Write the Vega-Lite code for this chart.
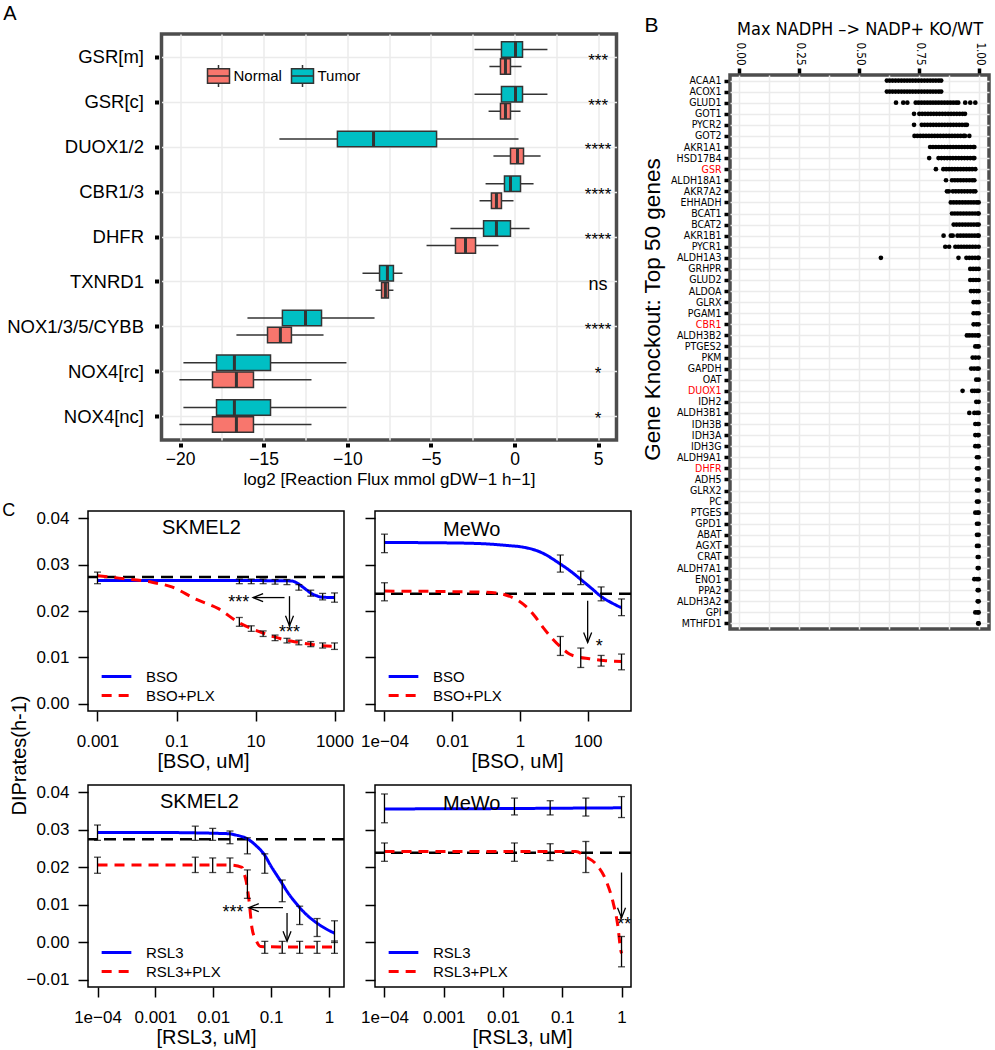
{
  "$schema": "https://vega.github.io/schema/vega-lite/v6.json",
  "background": "white",
  "padding": {"left": 2, "top": 4, "right": 0, "bottom": 0},
  "config": {
    "font": "Liberation Sans",
    "view": {"stroke": null},
    "axis": {"labelColor": "black", "titleColor": "black", "titleFontWeight": "normal", "labelFont": "Liberation Sans", "titleFont": "Liberation Sans"},
    "legend": {"labelColor": "black", "labelFont": "Liberation Sans"},
    "title": {"fontWeight": "normal", "color": "black", "font": "Liberation Sans"}
  },
  "datasets": {
    "boxes": [
      {"gene": "GSR[m]", "grp": "Tumor", "lo": -2.39, "q1": -0.78, "med": 0.06, "q3": 0.48, "hi": 1.97},
      {"gene": "GSR[m]", "grp": "Normal", "lo": -1.50, "q1": -0.84, "med": -0.54, "q3": -0.24, "hi": 0.42},
      {"gene": "GSR[c]", "grp": "Tumor", "lo": -2.39, "q1": -0.78, "med": 0.06, "q3": 0.48, "hi": 1.97},
      {"gene": "GSR[c]", "grp": "Normal", "lo": -1.55, "q1": -0.84, "med": -0.54, "q3": -0.24, "hi": 0.36},
      {"gene": "DUOX1/2", "grp": "Tumor", "lo": -14.06, "q1": -10.59, "med": -8.43, "q3": -4.66, "hi": 0.24},
      {"gene": "DUOX1/2", "grp": "Normal", "lo": -1.26, "q1": -0.24, "med": 0.18, "q3": 0.54, "hi": 1.56},
      {"gene": "CBR1/3", "grp": "Tumor", "lo": -1.73, "q1": -0.60, "med": -0.24, "q3": 0.36, "hi": 1.14},
      {"gene": "CBR1/3", "grp": "Normal", "lo": -2.09, "q1": -1.38, "med": -1.08, "q3": -0.78, "hi": -0.06},
      {"gene": "DHFR", "grp": "Tumor", "lo": -3.83, "q1": -1.85, "med": -1.08, "q3": -0.24, "hi": 0.90},
      {"gene": "DHFR", "grp": "Normal", "lo": -5.26, "q1": -3.53, "med": -2.93, "q3": -2.33, "hi": -0.96},
      {"gene": "TXNRD1", "grp": "Tumor", "lo": -9.09, "q1": -8.07, "med": -7.60, "q3": -7.24, "hi": -6.70},
      {"gene": "TXNRD1", "grp": "Normal", "lo": -8.31, "q1": -7.95, "med": -7.72, "q3": -7.54, "hi": -7.24},
      {"gene": "NOX1/3/5/CYBB", "grp": "Tumor", "lo": -15.97, "q1": -13.88, "med": -12.50, "q3": -11.54, "hi": -8.37},
      {"gene": "NOX1/3/5/CYBB", "grp": "Normal", "lo": -16.63, "q1": -14.77, "med": -14.00, "q3": -13.34, "hi": -11.42},
      {"gene": "NOX4[rc]", "grp": "Tumor", "lo": -19.80, "q1": -17.82, "med": -16.75, "q3": -14.59, "hi": -10.05},
      {"gene": "NOX4[rc]", "grp": "Normal", "lo": -20.04, "q1": -18.06, "med": -16.63, "q3": -15.61, "hi": -12.14},
      {"gene": "NOX4[nc]", "grp": "Tumor", "lo": -19.80, "q1": -17.82, "med": -16.75, "q3": -14.59, "hi": -10.05},
      {"gene": "NOX4[nc]", "grp": "Normal", "lo": -20.04, "q1": -18.06, "med": -16.63, "q3": -15.61, "hi": -12.14}
    ],
    "sigA": [
      {"gene": "GSR[m]", "sig": "***"},
      {"gene": "GSR[c]", "sig": "***"},
      {"gene": "DUOX1/2", "sig": "****"},
      {"gene": "CBR1/3", "sig": "****"},
      {"gene": "DHFR", "sig": "****"},
      {"gene": "TXNRD1", "sig": "ns"},
      {"gene": "NOX1/3/5/CYBB", "sig": "****"},
      {"gene": "NOX4[rc]", "sig": "*"},
      {"gene": "NOX4[nc]", "sig": "*"}
    ],
    "ko": [
      {"gene": "ACAA1", "v": [0.615,0.627,0.639,0.651,0.663,0.675,0.687,0.699,0.711,0.723,0.735,0.747,0.759,0.771,0.783,0.795,0.807,0.819,0.831,0.841]},
      {"gene": "ACOX1", "v": [0.615,0.627,0.639,0.651,0.663,0.675,0.687,0.699,0.711,0.723,0.735,0.747,0.759,0.771,0.783,0.795,0.807,0.819,0.831,0.841]},
      {"gene": "GLUD1", "v": [0.653,0.683,0.700,0.735,0.747,0.759,0.771,0.783,0.795,0.807,0.819,0.831,0.843,0.855,0.867,0.879,0.891,0.903,0.912,0.941,0.962,0.983]},
      {"gene": "GOT1", "v": [0.728,0.750,0.762,0.774,0.786,0.798,0.810,0.822,0.834,0.846,0.858,0.870,0.882,0.894,0.906,0.918,0.930,0.940]},
      {"gene": "PYCR2", "v": [0.728,0.760,0.772,0.784,0.796,0.808,0.820,0.832,0.844,0.856,0.868,0.880,0.892,0.904,0.916,0.928,0.940,0.948]},
      {"gene": "GOT2", "v": [0.730,0.742,0.754,0.766,0.778,0.790,0.802,0.814,0.826,0.838,0.850,0.862,0.874,0.886,0.898,0.910,0.922,0.934,0.940,0.958]},
      {"gene": "AKR1A1", "v": [0.795,0.807,0.819,0.831,0.843,0.855,0.867,0.879,0.891,0.903,0.915,0.927,0.939,0.951,0.963,0.975,0.979]},
      {"gene": "HSD17B4", "v": [0.791,0.830,0.842,0.854,0.866,0.878,0.890,0.902,0.914,0.926,0.938,0.950,0.962,0.974,0.979]},
      {"gene": "GSR", "v": [0.819,0.850,0.862,0.874,0.886,0.898,0.910,0.922,0.934,0.946,0.958,0.970,0.983]},
      {"gene": "ALDH18A1", "v": [0.861,0.886,0.898,0.910,0.922,0.934,0.946,0.958,0.970,0.979]},
      {"gene": "AKR7A2", "v": [0.865,0.873,0.890,0.902,0.914,0.926,0.938,0.950,0.962,0.974,0.983]},
      {"gene": "EHHADH", "v": [0.881,0.893,0.905,0.917,0.929,0.941,0.953,0.965,0.977,0.989,0.997]},
      {"gene": "BCAT1", "v": [0.886,0.898,0.910,0.922,0.934,0.946,0.958,0.970,0.982,0.994,0.997]},
      {"gene": "BCAT2", "v": [0.893,0.905,0.917,0.929,0.941,0.953,0.965,0.977,0.989,0.997]},
      {"gene": "AKR1B1", "v": [0.851,0.881,0.889,0.909,0.921,0.933,0.945,0.957,0.969,0.981,0.993,0.997]},
      {"gene": "PYCR1", "v": [0.858,0.874,0.900,0.912,0.924,0.936,0.948,0.960,0.972,0.984,0.997]},
      {"gene": "ALDH1A3", "v": [0.590,0.913,0.946,0.958,0.970,0.982,0.994,0.997]},
      {"gene": "GRHPR", "v": [0.962,0.974,0.986,0.997]},
      {"gene": "GLUD2", "v": [0.962,0.974,0.986,0.997]},
      {"gene": "ALDOA", "v": [0.965,0.977,0.989,0.997]},
      {"gene": "GLRX", "v": [0.976,0.988,0.997]},
      {"gene": "PGAM1", "v": [0.976,0.988,0.997]},
      {"gene": "CBR1", "v": [0.976,0.988,0.997]},
      {"gene": "ALDH3B2", "v": [0.948,0.958,0.970,0.982,0.994,0.997]},
      {"gene": "PTGES2", "v": [0.983,0.992,0.997]},
      {"gene": "PKM", "v": [0.972,0.984,0.997]},
      {"gene": "GAPDH", "v": [0.966,0.978,0.990,0.997]},
      {"gene": "OAT", "v": [0.987,0.997]},
      {"gene": "DUOX1", "v": [0.930,0.970,0.980,0.990,0.997]},
      {"gene": "IDH2", "v": [0.987,0.997]},
      {"gene": "ALDH3B1", "v": [0.958,0.979,0.990,0.997]},
      {"gene": "IDH3B", "v": [0.983,0.993,0.997]},
      {"gene": "IDH3A", "v": [0.983,0.993,0.997]},
      {"gene": "IDH3G", "v": [0.983,0.993,0.997]},
      {"gene": "ALDH9A1", "v": [0.990,0.997]},
      {"gene": "DHFR", "v": [0.990,0.997]},
      {"gene": "ADH5", "v": [0.990,0.997]},
      {"gene": "GLRX2", "v": [0.990,0.997]},
      {"gene": "PC", "v": [0.990,0.997]},
      {"gene": "PTGES", "v": [0.983,0.993,0.997]},
      {"gene": "GPD1", "v": [0.990,0.997]},
      {"gene": "ABAT", "v": [0.990,0.997]},
      {"gene": "AGXT", "v": [0.990,0.997]},
      {"gene": "CRAT", "v": [0.993,0.997]},
      {"gene": "ALDH7A1", "v": [0.993,0.997]},
      {"gene": "ENO1", "v": [0.979,0.990,0.997]},
      {"gene": "PPA2", "v": [0.993,0.997]},
      {"gene": "ALDH3A2", "v": [0.993,0.997]},
      {"gene": "GPI", "v": [0.983,0.993,0.997]},
      {"gene": "MTHFD1", "v": [0.995,0.997]}
    ],
    "ctrl": [
      {"p": "TL", "y": 0.02735},
      {"p": "TR", "y": 0.0237},
      {"p": "BL", "y": 0.0275},
      {"p": "BR", "y": 0.0239}
    ],
    "curves": [
      {"p": "TL", "t": "BSO", "dose": 0.001, "y": 0.0266},
      {"p": "TL", "t": "BSO", "dose": 1, "y": 0.0266},
      {"p": "TL", "t": "BSO", "dose": 80, "y": 0.0265},
      {"p": "TL", "t": "BSO", "dose": 110, "y": 0.0261},
      {"p": "TL", "t": "BSO", "dose": 145, "y": 0.0254},
      {"p": "TL", "t": "BSO", "dose": 200, "y": 0.0245},
      {"p": "TL", "t": "BSO", "dose": 257, "y": 0.0238},
      {"p": "TL", "t": "BSO", "dose": 350, "y": 0.0233},
      {"p": "TL", "t": "BSO", "dose": 457, "y": 0.0230},
      {"p": "TL", "t": "BSO", "dose": 1000, "y": 0.0229},
      {"p": "TL", "t": "BSO+PLX", "dose": 0.001, "y": 0.0276},
      {"p": "TL", "t": "BSO+PLX", "dose": 0.0035, "y": 0.0271},
      {"p": "TL", "t": "BSO+PLX", "dose": 0.024, "y": 0.0262},
      {"p": "TL", "t": "BSO+PLX", "dose": 0.076, "y": 0.0252},
      {"p": "TL", "t": "BSO+PLX", "dose": 0.32, "y": 0.0225},
      {"p": "TL", "t": "BSO+PLX", "dose": 1.15, "y": 0.0205},
      {"p": "TL", "t": "BSO+PLX", "dose": 3.8, "y": 0.0175},
      {"p": "TL", "t": "BSO+PLX", "dose": 8, "y": 0.0162},
      {"p": "TL", "t": "BSO+PLX", "dose": 16, "y": 0.0152},
      {"p": "TL", "t": "BSO+PLX", "dose": 30, "y": 0.0144},
      {"p": "TL", "t": "BSO+PLX", "dose": 60, "y": 0.0137},
      {"p": "TL", "t": "BSO+PLX", "dose": 125, "y": 0.0132},
      {"p": "TL", "t": "BSO+PLX", "dose": 257, "y": 0.0128},
      {"p": "TL", "t": "BSO+PLX", "dose": 500, "y": 0.0125},
      {"p": "TL", "t": "BSO+PLX", "dose": 1000, "y": 0.0124},
      {"p": "TR", "t": "BSO", "dose": 0.0001, "y": 0.0348},
      {"p": "TR", "t": "BSO", "dose": 0.01, "y": 0.0347},
      {"p": "TR", "t": "BSO", "dose": 0.1, "y": 0.0345},
      {"p": "TR", "t": "BSO", "dose": 0.5, "y": 0.0341},
      {"p": "TR", "t": "BSO", "dose": 1, "y": 0.0339},
      {"p": "TR", "t": "BSO", "dose": 4.7, "y": 0.0325},
      {"p": "TR", "t": "BSO", "dose": 14.5, "y": 0.0303},
      {"p": "TR", "t": "BSO", "dose": 30, "y": 0.0287},
      {"p": "TR", "t": "BSO", "dose": 63, "y": 0.0268},
      {"p": "TR", "t": "BSO", "dose": 130, "y": 0.0249},
      {"p": "TR", "t": "BSO", "dose": 275, "y": 0.0229},
      {"p": "TR", "t": "BSO", "dose": 500, "y": 0.0218},
      {"p": "TR", "t": "BSO", "dose": 1000, "y": 0.0207},
      {"p": "TR", "t": "BSO+PLX", "dose": 0.0001, "y": 0.0243},
      {"p": "TR", "t": "BSO+PLX", "dose": 0.05, "y": 0.0241},
      {"p": "TR", "t": "BSO+PLX", "dose": 0.2, "y": 0.0239},
      {"p": "TR", "t": "BSO+PLX", "dose": 0.4, "y": 0.0234},
      {"p": "TR", "t": "BSO+PLX", "dose": 0.78, "y": 0.0225},
      {"p": "TR", "t": "BSO+PLX", "dose": 1.5, "y": 0.0210},
      {"p": "TR", "t": "BSO+PLX", "dose": 2.95, "y": 0.0186},
      {"p": "TR", "t": "BSO+PLX", "dose": 5, "y": 0.0163},
      {"p": "TR", "t": "BSO+PLX", "dose": 9.1, "y": 0.0140},
      {"p": "TR", "t": "BSO+PLX", "dose": 18, "y": 0.0119},
      {"p": "TR", "t": "BSO+PLX", "dose": 29, "y": 0.0107},
      {"p": "TR", "t": "BSO+PLX", "dose": 50, "y": 0.0101},
      {"p": "TR", "t": "BSO+PLX", "dose": 112, "y": 0.0097},
      {"p": "TR", "t": "BSO+PLX", "dose": 300, "y": 0.0093},
      {"p": "TR", "t": "BSO+PLX", "dose": 1000, "y": 0.0091},
      {"p": "BL", "t": "RSL3", "dose": 0.0001, "y": 0.0293},
      {"p": "BL", "t": "RSL3", "dose": 0.001, "y": 0.0293},
      {"p": "BL", "t": "RSL3", "dose": 0.0174, "y": 0.0290},
      {"p": "BL", "t": "RSL3", "dose": 0.025, "y": 0.0286},
      {"p": "BL", "t": "RSL3", "dose": 0.039, "y": 0.0276},
      {"p": "BL", "t": "RSL3", "dose": 0.055, "y": 0.0258},
      {"p": "BL", "t": "RSL3", "dose": 0.0748, "y": 0.0236},
      {"p": "BL", "t": "RSL3", "dose": 0.1, "y": 0.0203},
      {"p": "BL", "t": "RSL3", "dose": 0.145, "y": 0.0164},
      {"p": "BL", "t": "RSL3", "dose": 0.2, "y": 0.0130},
      {"p": "BL", "t": "RSL3", "dose": 0.28, "y": 0.0101},
      {"p": "BL", "t": "RSL3", "dose": 0.4, "y": 0.0075},
      {"p": "BL", "t": "RSL3", "dose": 0.62, "y": 0.0051},
      {"p": "BL", "t": "RSL3", "dose": 0.9, "y": 0.0035},
      {"p": "BL", "t": "RSL3", "dose": 1.25, "y": 0.0024},
      {"p": "BL", "t": "RSL3+PLX", "dose": 0.0001, "y": 0.0206},
      {"p": "BL", "t": "RSL3+PLX", "dose": 0.02, "y": 0.0206},
      {"p": "BL", "t": "RSL3+PLX", "dose": 0.0316, "y": 0.0200},
      {"p": "BL", "t": "RSL3+PLX", "dose": 0.034, "y": 0.0185},
      {"p": "BL", "t": "RSL3+PLX", "dose": 0.037, "y": 0.0164},
      {"p": "BL", "t": "RSL3+PLX", "dose": 0.0417, "y": 0.0110},
      {"p": "BL", "t": "RSL3+PLX", "dose": 0.0468, "y": 0.0038},
      {"p": "BL", "t": "RSL3+PLX", "dose": 0.055, "y": 0.0005},
      {"p": "BL", "t": "RSL3+PLX", "dose": 0.066, "y": -0.0012},
      {"p": "BL", "t": "RSL3+PLX", "dose": 0.2, "y": -0.0013},
      {"p": "BL", "t": "RSL3+PLX", "dose": 1.25, "y": -0.0013},
      {"p": "BR", "t": "RSL3", "dose": 0.0001, "y": 0.0356},
      {"p": "BR", "t": "RSL3", "dose": 0.01, "y": 0.0357},
      {"p": "BR", "t": "RSL3", "dose": 0.1, "y": 0.0358},
      {"p": "BR", "t": "RSL3", "dose": 1, "y": 0.0359},
      {"p": "BR", "t": "RSL3+PLX", "dose": 0.0001, "y": 0.0242},
      {"p": "BR", "t": "RSL3+PLX", "dose": 0.17, "y": 0.0242},
      {"p": "BR", "t": "RSL3+PLX", "dose": 0.25, "y": 0.0228},
      {"p": "BR", "t": "RSL3+PLX", "dose": 0.37, "y": 0.0209},
      {"p": "BR", "t": "RSL3+PLX", "dose": 0.55, "y": 0.0164},
      {"p": "BR", "t": "RSL3+PLX", "dose": 0.71, "y": 0.0110},
      {"p": "BR", "t": "RSL3+PLX", "dose": 0.86, "y": 0.0047},
      {"p": "BR", "t": "RSL3+PLX", "dose": 0.98, "y": -0.0025},
      {"p": "BR", "t": "RSL3+PLX", "dose": 1, "y": -0.0030}
    ],
    "errs": [
      {"p": "TL", "t": "BSO", "dose": 0.001, "lo": 0.0259, "hi": 0.0284},
      {"p": "TL", "t": "BSO", "dose": 3.9, "lo": 0.0259, "hi": 0.0269},
      {"p": "TL", "t": "BSO", "dose": 7.8, "lo": 0.0259, "hi": 0.0269},
      {"p": "TL", "t": "BSO", "dose": 15.6, "lo": 0.0259, "hi": 0.0269},
      {"p": "TL", "t": "BSO", "dose": 31.25, "lo": 0.0258, "hi": 0.0268},
      {"p": "TL", "t": "BSO", "dose": 62.5, "lo": 0.0257, "hi": 0.0268},
      {"p": "TL", "t": "BSO", "dose": 125, "lo": 0.0245, "hi": 0.0257},
      {"p": "TL", "t": "BSO", "dose": 250, "lo": 0.0232, "hi": 0.0245},
      {"p": "TL", "t": "BSO", "dose": 500, "lo": 0.0224, "hi": 0.0238},
      {"p": "TL", "t": "BSO", "dose": 1000, "lo": 0.0219, "hi": 0.0239},
      {"p": "TL", "t": "BSO+PLX", "dose": 3.9, "lo": 0.0167, "hi": 0.0186},
      {"p": "TL", "t": "BSO+PLX", "dose": 7.8, "lo": 0.0156, "hi": 0.0168},
      {"p": "TL", "t": "BSO+PLX", "dose": 15.6, "lo": 0.0145, "hi": 0.0157},
      {"p": "TL", "t": "BSO+PLX", "dose": 31.25, "lo": 0.0136, "hi": 0.0148},
      {"p": "TL", "t": "BSO+PLX", "dose": 62.5, "lo": 0.0131, "hi": 0.0141},
      {"p": "TL", "t": "BSO+PLX", "dose": 125, "lo": 0.0127, "hi": 0.0137},
      {"p": "TL", "t": "BSO+PLX", "dose": 250, "lo": 0.0123, "hi": 0.0134},
      {"p": "TL", "t": "BSO+PLX", "dose": 500, "lo": 0.0120, "hi": 0.0131},
      {"p": "TL", "t": "BSO+PLX", "dose": 1000, "lo": 0.0117, "hi": 0.0131},
      {"p": "TR", "t": "BSO", "dose": 0.0001, "lo": 0.0326, "hi": 0.0366},
      {"p": "TR", "t": "BSO", "dose": 15.6, "lo": 0.0284, "hi": 0.0321},
      {"p": "TR", "t": "BSO", "dose": 62.5, "lo": 0.0257, "hi": 0.0286},
      {"p": "TR", "t": "BSO", "dose": 250, "lo": 0.0222, "hi": 0.0252},
      {"p": "TR", "t": "BSO", "dose": 1000, "lo": 0.0190, "hi": 0.0226},
      {"p": "TR", "t": "BSO+PLX", "dose": 0.0001, "lo": 0.0222, "hi": 0.0261},
      {"p": "TR", "t": "BSO+PLX", "dose": 15.6, "lo": 0.0104, "hi": 0.0145},
      {"p": "TR", "t": "BSO+PLX", "dose": 62.5, "lo": 0.0078, "hi": 0.0120},
      {"p": "TR", "t": "BSO+PLX", "dose": 250, "lo": 0.0081, "hi": 0.0104},
      {"p": "TR", "t": "BSO+PLX", "dose": 1000, "lo": 0.0073, "hi": 0.0107},
      {"p": "BL", "t": "RSL3", "dose": 0.0001, "lo": 0.0272, "hi": 0.0313},
      {"p": "BL", "t": "RSL3", "dose": 0.0049, "lo": 0.0272, "hi": 0.0310},
      {"p": "BL", "t": "RSL3", "dose": 0.0098, "lo": 0.0272, "hi": 0.0304},
      {"p": "BL", "t": "RSL3", "dose": 0.0195, "lo": 0.0263, "hi": 0.0297},
      {"p": "BL", "t": "RSL3", "dose": 0.039, "lo": 0.0236, "hi": 0.0279},
      {"p": "BL", "t": "RSL3", "dose": 0.078, "lo": 0.0184, "hi": 0.0236},
      {"p": "BL", "t": "RSL3", "dose": 0.156, "lo": 0.0108, "hi": 0.0166},
      {"p": "BL", "t": "RSL3", "dose": 0.3125, "lo": 0.0047, "hi": 0.0096},
      {"p": "BL", "t": "RSL3", "dose": 0.625, "lo": 0.0015, "hi": 0.0063},
      {"p": "BL", "t": "RSL3", "dose": 1.25, "lo": -0.0001, "hi": 0.0057},
      {"p": "BL", "t": "RSL3+PLX", "dose": 0.0001, "lo": 0.0184, "hi": 0.0227},
      {"p": "BL", "t": "RSL3+PLX", "dose": 0.0049, "lo": 0.0186, "hi": 0.0227},
      {"p": "BL", "t": "RSL3+PLX", "dose": 0.0098, "lo": 0.0186, "hi": 0.0225},
      {"p": "BL", "t": "RSL3+PLX", "dose": 0.0195, "lo": 0.0186, "hi": 0.0225},
      {"p": "BL", "t": "RSL3+PLX", "dose": 0.039, "lo": 0.0117, "hi": 0.0193},
      {"p": "BL", "t": "RSL3+PLX", "dose": 0.078, "lo": -0.0030, "hi": 0.0002},
      {"p": "BL", "t": "RSL3+PLX", "dose": 0.156, "lo": -0.0030, "hi": 0.0002},
      {"p": "BL", "t": "RSL3+PLX", "dose": 0.3125, "lo": -0.0030, "hi": 0.0002},
      {"p": "BL", "t": "RSL3+PLX", "dose": 0.625, "lo": -0.0030, "hi": 0.0002},
      {"p": "BL", "t": "RSL3+PLX", "dose": 1.25, "lo": -0.0030, "hi": 0.0003},
      {"p": "BR", "t": "RSL3", "dose": 0.0001, "lo": 0.0319, "hi": 0.0396},
      {"p": "BR", "t": "RSL3", "dose": 0.0156, "lo": 0.0340, "hi": 0.0385},
      {"p": "BR", "t": "RSL3", "dose": 0.0625, "lo": 0.0340, "hi": 0.0378},
      {"p": "BR", "t": "RSL3", "dose": 0.25, "lo": 0.0337, "hi": 0.0385},
      {"p": "BR", "t": "RSL3", "dose": 1, "lo": 0.0333, "hi": 0.0389},
      {"p": "BR", "t": "RSL3+PLX", "dose": 0.0001, "lo": 0.0216, "hi": 0.0265},
      {"p": "BR", "t": "RSL3+PLX", "dose": 0.0156, "lo": 0.0216, "hi": 0.0265},
      {"p": "BR", "t": "RSL3+PLX", "dose": 0.0625, "lo": 0.0218, "hi": 0.0263},
      {"p": "BR", "t": "RSL3+PLX", "dose": 0.25, "lo": 0.0186, "hi": 0.0269},
      {"p": "BR", "t": "RSL3+PLX", "dose": 1, "lo": -0.0066, "hi": 0.0015}
    ],
    "arrows": [
      {"p": "TL", "x": 54.3, "y": 0.0229, "x2": 8.7, "y2": 0.0229, "dir": "left"},
      {"p": "TL", "x": 72.5, "y": 0.0232, "x2": 72.5, "y2": 0.0168, "dir": "down"},
      {"p": "TR", "x": 100, "y": 0.0222, "x2": 100, "y2": 0.0132, "dir": "down"},
      {"p": "BL", "x": 0.161, "y": 0.0092, "x2": 0.0412, "y2": 0.0092, "dir": "left"},
      {"p": "BL", "x": 0.189, "y": 0.0078, "x2": 0.189, "y2": 0.0002, "dir": "down"},
      {"p": "BR", "x": 1.0, "y": 0.0186, "x2": 1.0, "y2": 0.0065, "dir": "down"}
    ],
    "sigC": [
      {"p": "TL", "x": 3.78, "y": 0.0218, "label": "***"},
      {"p": "TL", "x": 72.5, "y": 0.0153, "label": "***"},
      {"p": "TR", "x": 219, "y": 0.0122, "label": "*"},
      {"p": "BL", "x": 0.0219, "y": 0.0079, "label": "***"},
      {"p": "BR", "x": 1.11, "y": 0.0046, "label": "**"}
    ]
  },
  "spacing": 6,
  "columns": 2,
  "resolve": {"scale": {"x": "independent", "y": "independent", "color": "independent", "fill": "independent", "strokeDash": "independent", "shape": "independent"}},
  "concat": [
    {
      "spacing": 11,
      "columns": 1,
      "resolve": {"scale": {"x": "independent", "y": "independent", "color": "independent", "fill": "independent", "strokeDash": "independent", "shape": "independent"}},
      "concat": [
        {
          "title": {"text": "A", "anchor": "start", "frame": "bounds", "fontSize": 20, "offset": -8, "dx": -4, "baseline": "alphabetic"},
          "columns": 2,
          "spacing": 6.5,
          "resolve": {"scale": {"x": "independent", "y": "independent", "fill": "independent"}},
          "concat": [
            {
              "width": 56,
              "height": 406,
              "data": {"name": "sigA"},
              "mark": {"type": "text", "align": "right", "baseline": "middle", "fontSize": 18.5, "color": "black"},
              "encoding": {
                "y": {
                  "field": "gene", "type": "nominal",
                  "sort": ["GSR[m]", "GSR[c]", "DUOX1/2", "CBR1/3", "DHFR", "TXNRD1", "NOX1/3/5/CYBB", "NOX4[rc]", "NOX4[nc]"],
                  "scale": {"paddingInner": 0, "paddingOuter": 0.036},
                  "axis": null
                },
                "x": {"datum": 1, "type": "quantitative", "scale": {"domain": [0, 1], "nice": false}, "axis": null},
                "text": {"field": "gene"}
              }
            },
            {
              "width": 455,
              "height": 406,
              "view": {"stroke": "#4d4d4d", "strokeWidth": 3.5},
              "encoding": {
                "y": {
                  "field": "gene", "type": "nominal",
                  "sort": ["GSR[m]", "GSR[c]", "DUOX1/2", "CBR1/3", "DHFR", "TXNRD1", "NOX1/3/5/CYBB", "NOX4[rc]", "NOX4[nc]"],
                  "scale": {"paddingInner": 0, "paddingOuter": 0.036},
                  "axis": {"title": null, "labels": false, "offset": 3, "tickSize": 4, "tickWidth": 4, "tickColor": "black", "domain": false, "grid": true, "gridColor": "#ebebeb", "gridWidth": 1.5}
                }
              },
              "layer": [
                {
                  "data": {"name": "boxes"},
                  "mark": {"type": "rule", "color": "#333333", "strokeWidth": 1.5, "yOffset": {"expr": "datum.grp === 'Tumor' ? -8.5 : 8.5"}},
                  "encoding": {
                    "x": {
                      "field": "lo", "type": "quantitative",
                      "scale": {"domain": [-21.11, 6.1], "nice": false, "zero": false},
                      "axis": {
                        "title": "log2 [Reaction Flux mmol gDW−1 h−1]", "titleFontSize": 17, "titlePadding": 4,
                        "labelFontSize": 17.5, "labelPadding": 3, "offset": 3,
                        "values": [-20, -17.5, -15, -12.5, -10, -7.5, -5, -2.5, 0, 2.5, 5],
                        "labelExpr": "datum.value % 5 === 0 ? format(datum.value, 'd') : ''",
                        "labelOverlap": false, "labelFlush": false,
                        "tickOpacity": {"condition": {"test": "datum.value % 5 === 0", "value": 1}, "value": 0},
                        "tickSize": 4, "tickWidth": 4, "tickColor": "black", "domain": false,
                        "grid": true, "gridColor": "#ebebeb", "gridWidth": 1.5
                      }
                    },
                    "x2": {"field": "hi"}
                  }
                },
                {
                  "data": {"name": "boxes"},
                  "mark": {"type": "bar", "height": 15.5, "stroke": "#333333", "strokeWidth": 1.5, "yOffset": {"expr": "datum.grp === 'Tumor' ? -8.5 : 8.5"}},
                  "encoding": {
                    "x": {"field": "q1", "type": "quantitative"},
                    "x2": {"field": "q3"},
                    "fill": {
                      "field": "grp", "type": "nominal",
                      "scale": {"domain": ["Normal", "Tumor"], "range": ["#F8766D", "#00BFC4"]},
                      "legend": {
                        "title": null, "orient": "none", "legendX": 45, "legendY": 30, "direction": "horizontal",
                        "symbolType": "M-1,-0.65H1V0.65H-1ZM-1,0H1M0,-0.65V-1M0,0.65V1",
                        "symbolSize": 484, "symbolStrokeColor": "#333333", "symbolStrokeWidth": 1.5, "symbolOpacity": 1,
                        "labelFontSize": 15, "labelOffset": 3, "columnPadding": 6
                      }
                    }
                  }
                },
                {
                  "data": {"name": "boxes"},
                  "mark": {"type": "tick", "color": "#333333", "thickness": 3, "size": 15.5, "opacity": 1, "yOffset": {"expr": "datum.grp === 'Tumor' ? -8.5 : 8.5"}},
                  "encoding": {"x": {"field": "med", "type": "quantitative"}}
                },
                {
                  "data": {"name": "sigA"},
                  "mark": {"type": "text", "baseline": "middle", "align": "center", "dy": 3, "color": "black"},
                  "encoding": {
                    "x": {"datum": 5, "type": "quantitative"},
                    "text": {"field": "sig"},
                    "size": {"condition": {"test": "datum.sig === 'ns'", "value": 18}, "value": 17}
                  }
                }
              ]
            }
          ]
        },
        {
          "title": {"text": "C", "anchor": "start", "frame": "bounds", "fontSize": 18, "offset": -25, "dx": -6, "baseline": "alphabetic"},
          "columns": 2,
          "bounds": "flush",
          "spacing": {"row": 74, "column": 31},
          "resolve": {"scale": {"x": "independent", "y": "independent", "color": "independent", "strokeDash": "independent", "shape": "independent"}},
          "concat": [
            {
              "width": 256, "height": 200,
              "view": {"stroke": "black", "strokeWidth": 1.5},
              "title": {"text": "SKMEL2", "anchor": "start", "frame": "group", "dx": 74, "offset": -45, "baseline": "alphabetic", "fontSize": 20},
              "layer": [
                {
                  "data": {"name": "ctrl"}, "transform": [{"filter": "datum.p === 'TL'"}],
                  "mark": {"type": "rule", "color": "black", "strokeWidth": 2.5, "strokeDash": [12, 7]},
                  "encoding": {
                    "y": {"field": "y", "type": "quantitative", "title": "DIPrates(h-1)", "scale": {"domain": [-0.0016, 0.0416], "nice": false, "zero": false},
                      "axis": {"title": "DIPrates(h-1)", "titleFontSize": 20, "titleX": -69, "titleY": 244, "titleAngle": -90, "titleBaseline": "middle",
                        "values": [0, 0.01, 0.02, 0.03, 0.04], "format": ".2f", "labelFontSize": 17, "labelPadding": 9, "tickSize": 10, "tickWidth": 1.5, "tickColor": "black", "domain": false, "grid": false}}
                  }
                },
                {
                  "data": {"name": "curves"}, "transform": [{"filter": "datum.p === 'TL'"}],
                  "mark": {"type": "line", "strokeWidth": 3, "interpolate": "monotone"},
                  "encoding": {
                    "x": {"field": "dose", "type": "quantitative", "title": "[BSO, uM]", "scale": {"type": "log", "domain": [0.000575, 1738], "nice": false},
                      "axis": {"title": "[BSO, uM]", "titleFontSize": 20, "titleX": 115, "titlePadding": 2, "values": [0.001, 0.1, 10, 1000],
                        "labelExpr": "datum.value < 0.0002 ? '1e−04' : format(datum.value, '~g')", "labelFontSize": 17, "labelPadding": 12,
                        "labelOverlap": false, "labelFlush": false, "tickSize": 10, "tickWidth": 1.5, "tickColor": "black", "domain": false, "grid": false}},
                    "y": {"field": "y", "type": "quantitative", "title": "DIPrates(h-1)"},
                    "color": {"field": "t", "type": "nominal", "scale": {"domain": ["BSO", "BSO+PLX"], "range": ["#0000ff", "#ff0000"]},
                      "legend": {"title": null, "orient": "none", "legendX": 18, "legendY": 155, "padding": 0, "symbolType": "M-1.65,0H1.65", "symbolSize": 324, "symbolStrokeWidth": 3, "symbolFillColor": "transparent", "labelFontSize": 15, "labelOffset": 19, "rowPadding": 0}},
                    "strokeDash": {"field": "t", "type": "nominal", "scale": {"domain": ["BSO", "BSO+PLX"], "range": [[1, 0], [10, 7]]},
                      "legend": {"title": null, "orient": "none", "legendX": 18, "legendY": 155, "padding": 0, "symbolType": "M-1.65,0H1.65", "symbolSize": 324, "symbolStrokeWidth": 3, "symbolFillColor": "transparent", "labelFontSize": 15, "labelOffset": 19, "rowPadding": 0}}
                  }
                },
                {
                  "data": {"name": "errs"}, "transform": [{"filter": "datum.p === 'TL'"}],
                  "mark": {"type": "errorbar", "ticks": true, "size": 7, "thickness": 1.3, "color": "black"},
                  "encoding": {"x": {"field": "dose", "type": "quantitative", "title": "[BSO, uM]"}, "y": {"field": "lo", "type": "quantitative", "title": "DIPrates(h-1)"}, "y2": {"field": "hi"}}
                },
                {
                  "data": {"name": "arrows"}, "transform": [{"filter": "datum.p === 'TL'"}],
                  "mark": {"type": "rule", "color": "black", "strokeWidth": 1.3},
                  "encoding": {"x": {"field": "x", "type": "quantitative", "title": "[BSO, uM]"}, "x2": {"field": "x2"}, "y": {"field": "y", "type": "quantitative", "title": "DIPrates(h-1)"}, "y2": {"field": "y2"}}
                },
                {
                  "data": {"name": "arrows"}, "transform": [{"filter": "datum.p === 'TL'"}],
                  "mark": {"type": "point", "filled": false, "color": "black", "strokeWidth": 1.3, "size": 400, "opacity": 1},
                  "encoding": {"x": {"field": "x2", "type": "quantitative", "title": "[BSO, uM]"}, "y": {"field": "y2", "type": "quantitative", "title": "DIPrates(h-1)"},
                    "shape": {"field": "dir", "type": "nominal", "scale": {"domain": ["left", "down"], "range": ["M1,-0.4L0,0L1,0.4", "M-0.4,-1L0,0L0.4,-1"]}, "legend": null}}
                },
                {
                  "data": {"name": "sigC"}, "transform": [{"filter": "datum.p === 'TL'"}],
                  "mark": {"type": "text", "fontSize": 18, "baseline": "middle", "align": "center", "color": "black"},
                  "encoding": {"x": {"field": "x", "type": "quantitative", "title": "[BSO, uM]"}, "y": {"field": "y", "type": "quantitative", "title": "DIPrates(h-1)"}, "text": {"field": "label"}}
                }
              ]
            },
            {
              "width": 256, "height": 200,
              "view": {"stroke": "black", "strokeWidth": 1.5},
              "title": {"text": "MeWo", "anchor": "start", "frame": "group", "dx": 68, "offset": -45, "baseline": "alphabetic", "fontSize": 20},
              "layer": [
                {
                  "data": {"name": "ctrl"}, "transform": [{"filter": "datum.p === 'TR'"}],
                  "mark": {"type": "rule", "color": "black", "strokeWidth": 2.5, "strokeDash": [12, 7]},
                  "encoding": {
                    "y": {"field": "y", "type": "quantitative", "title": null, "scale": {"domain": [-0.0016, 0.0416], "nice": false, "zero": false},
                      "axis": {"title": null, "values": [0, 0.01, 0.02, 0.03, 0.04], "labels": false, "tickSize": 10, "tickWidth": 1.5, "tickColor": "black", "domain": false, "grid": false}}
                  }
                },
                {
                  "data": {"name": "curves"}, "transform": [{"filter": "datum.p === 'TR'"}],
                  "mark": {"type": "line", "strokeWidth": 3, "interpolate": "monotone"},
                  "encoding": {
                    "x": {"field": "dose", "type": "quantitative", "title": "[BSO, uM]", "scale": {"type": "log", "domain": [0.0000525, 1905], "nice": false},
                      "axis": {"title": "[BSO, uM]", "titleFontSize": 20, "titleX": 142, "titlePadding": 2, "values": [0.0001, 0.01, 1, 100],
                        "labelExpr": "datum.value < 0.0002 ? '1e−04' : format(datum.value, '~g')", "labelFontSize": 17, "labelPadding": 12,
                        "labelOverlap": false, "labelFlush": false, "tickSize": 10, "tickWidth": 1.5, "tickColor": "black", "domain": false, "grid": false}},
                    "y": {"field": "y", "type": "quantitative", "title": null},
                    "color": {"field": "t", "type": "nominal", "scale": {"domain": ["BSO", "BSO+PLX"], "range": ["#0000ff", "#ff0000"]},
                      "legend": {"title": null, "orient": "none", "legendX": 18, "legendY": 155, "padding": 0, "symbolType": "M-1.65,0H1.65", "symbolSize": 324, "symbolStrokeWidth": 3, "symbolFillColor": "transparent", "labelFontSize": 15, "labelOffset": 19, "rowPadding": 0}},
                    "strokeDash": {"field": "t", "type": "nominal", "scale": {"domain": ["BSO", "BSO+PLX"], "range": [[1, 0], [10, 7]]},
                      "legend": {"title": null, "orient": "none", "legendX": 18, "legendY": 155, "padding": 0, "symbolType": "M-1.65,0H1.65", "symbolSize": 324, "symbolStrokeWidth": 3, "symbolFillColor": "transparent", "labelFontSize": 15, "labelOffset": 19, "rowPadding": 0}}
                  }
                },
                {
                  "data": {"name": "errs"}, "transform": [{"filter": "datum.p === 'TR'"}],
                  "mark": {"type": "errorbar", "ticks": true, "size": 7, "thickness": 1.3, "color": "black"},
                  "encoding": {"x": {"field": "dose", "type": "quantitative", "title": "[BSO, uM]"}, "y": {"field": "lo", "type": "quantitative", "title": null}, "y2": {"field": "hi"}}
                },
                {
                  "data": {"name": "arrows"}, "transform": [{"filter": "datum.p === 'TR'"}],
                  "mark": {"type": "rule", "color": "black", "strokeWidth": 1.3},
                  "encoding": {"x": {"field": "x", "type": "quantitative", "title": "[BSO, uM]"}, "x2": {"field": "x2"}, "y": {"field": "y", "type": "quantitative", "title": null}, "y2": {"field": "y2"}}
                },
                {
                  "data": {"name": "arrows"}, "transform": [{"filter": "datum.p === 'TR'"}],
                  "mark": {"type": "point", "filled": false, "color": "black", "strokeWidth": 1.3, "size": 400, "opacity": 1},
                  "encoding": {"x": {"field": "x2", "type": "quantitative", "title": "[BSO, uM]"}, "y": {"field": "y2", "type": "quantitative", "title": null},
                    "shape": {"field": "dir", "type": "nominal", "scale": {"domain": ["left", "down"], "range": ["M1,-0.4L0,0L1,0.4", "M-0.4,-1L0,0L0.4,-1"]}, "legend": null}}
                },
                {
                  "data": {"name": "sigC"}, "transform": [{"filter": "datum.p === 'TR'"}],
                  "mark": {"type": "text", "fontSize": 18, "baseline": "middle", "align": "center", "color": "black"},
                  "encoding": {"x": {"field": "x", "type": "quantitative", "title": "[BSO, uM]"}, "y": {"field": "y", "type": "quantitative", "title": null}, "text": {"field": "label"}}
                }
              ]
            },
            {
              "width": 256, "height": 202,
              "view": {"stroke": "black", "strokeWidth": 1.5},
              "title": {"text": "SKMEL2", "anchor": "start", "frame": "group", "dx": 72, "offset": -45, "baseline": "alphabetic", "fontSize": 20},
              "layer": [
                {
                  "data": {"name": "ctrl"}, "transform": [{"filter": "datum.p === 'BL'"}],
                  "mark": {"type": "rule", "color": "black", "strokeWidth": 2.5, "strokeDash": [12, 7]},
                  "encoding": {
                    "y": {"field": "y", "type": "quantitative", "title": null, "scale": {"domain": [-0.012, 0.042], "nice": false, "zero": false},
                      "axis": {"title": null, "values": [-0.01, 0, 0.01, 0.02, 0.03, 0.04], "format": ".2f", "labelFontSize": 17, "labelPadding": 9, "tickSize": 10, "tickWidth": 1.5, "tickColor": "black", "domain": false, "grid": false}}
                  }
                },
                {
                  "data": {"name": "curves"}, "transform": [{"filter": "datum.p === 'BL'"}],
                  "mark": {"type": "line", "strokeWidth": 3, "interpolate": "monotone"},
                  "encoding": {
                    "x": {"field": "dose", "type": "quantitative", "title": "[RSL3, uM]", "scale": {"type": "log", "domain": [0.0000685, 1.824], "nice": false},
                      "axis": {"title": "[RSL3, uM]", "titleFontSize": 20, "titleX": 118, "titlePadding": 2, "values": [0.0001, 0.001, 0.01, 0.1, 1],
                        "labelExpr": "datum.value < 0.0002 ? '1e−04' : format(datum.value, '~g')", "labelFontSize": 17, "labelPadding": 12,
                        "labelOverlap": false, "labelFlush": false, "tickSize": 10, "tickWidth": 1.5, "tickColor": "black", "domain": false, "grid": false}},
                    "y": {"field": "y", "type": "quantitative", "title": null},
                    "color": {"field": "t", "type": "nominal", "scale": {"domain": ["RSL3", "RSL3+PLX"], "range": ["#0000ff", "#ff0000"]},
                      "legend": {"title": null, "orient": "none", "legendX": 18, "legendY": 157, "padding": 0, "symbolType": "M-1.65,0H1.65", "symbolSize": 324, "symbolStrokeWidth": 3, "symbolFillColor": "transparent", "labelFontSize": 15, "labelOffset": 19, "rowPadding": 0}},
                    "strokeDash": {"field": "t", "type": "nominal", "scale": {"domain": ["RSL3", "RSL3+PLX"], "range": [[1, 0], [10, 7]]},
                      "legend": {"title": null, "orient": "none", "legendX": 18, "legendY": 157, "padding": 0, "symbolType": "M-1.65,0H1.65", "symbolSize": 324, "symbolStrokeWidth": 3, "symbolFillColor": "transparent", "labelFontSize": 15, "labelOffset": 19, "rowPadding": 0}}
                  }
                },
                {
                  "data": {"name": "errs"}, "transform": [{"filter": "datum.p === 'BL'"}],
                  "mark": {"type": "errorbar", "ticks": true, "size": 7, "thickness": 1.3, "color": "black"},
                  "encoding": {"x": {"field": "dose", "type": "quantitative", "title": "[RSL3, uM]"}, "y": {"field": "lo", "type": "quantitative", "title": null}, "y2": {"field": "hi"}}
                },
                {
                  "data": {"name": "arrows"}, "transform": [{"filter": "datum.p === 'BL'"}],
                  "mark": {"type": "rule", "color": "black", "strokeWidth": 1.3},
                  "encoding": {"x": {"field": "x", "type": "quantitative", "title": "[RSL3, uM]"}, "x2": {"field": "x2"}, "y": {"field": "y", "type": "quantitative", "title": null}, "y2": {"field": "y2"}}
                },
                {
                  "data": {"name": "arrows"}, "transform": [{"filter": "datum.p === 'BL'"}],
                  "mark": {"type": "point", "filled": false, "color": "black", "strokeWidth": 1.3, "size": 400, "opacity": 1},
                  "encoding": {"x": {"field": "x2", "type": "quantitative", "title": "[RSL3, uM]"}, "y": {"field": "y2", "type": "quantitative", "title": null},
                    "shape": {"field": "dir", "type": "nominal", "scale": {"domain": ["left", "down"], "range": ["M1,-0.4L0,0L1,0.4", "M-0.4,-1L0,0L0.4,-1"]}, "legend": null}}
                },
                {
                  "data": {"name": "sigC"}, "transform": [{"filter": "datum.p === 'BL'"}],
                  "mark": {"type": "text", "fontSize": 18, "baseline": "middle", "align": "center", "color": "black"},
                  "encoding": {"x": {"field": "x", "type": "quantitative", "title": "[RSL3, uM]"}, "y": {"field": "y", "type": "quantitative", "title": null}, "text": {"field": "label"}}
                }
              ]
            },
            {
              "width": 256, "height": 202,
              "view": {"stroke": "black", "strokeWidth": 1.5},
              "title": {"text": "MeWo", "anchor": "start", "frame": "group", "dx": 68, "offset": -45, "baseline": "alphabetic", "fontSize": 20},
              "layer": [
                {
                  "data": {"name": "ctrl"}, "transform": [{"filter": "datum.p === 'BR'"}],
                  "mark": {"type": "rule", "color": "black", "strokeWidth": 2.5, "strokeDash": [12, 7]},
                  "encoding": {
                    "y": {"field": "y", "type": "quantitative", "title": null, "scale": {"domain": [-0.012, 0.042], "nice": false, "zero": false},
                      "axis": {"title": null, "values": [-0.01, 0, 0.01, 0.02, 0.03, 0.04], "labels": false, "tickSize": 10, "tickWidth": 1.5, "tickColor": "black", "domain": false, "grid": false}}
                  }
                },
                {
                  "data": {"name": "curves"}, "transform": [{"filter": "datum.p === 'BR'"}],
                  "mark": {"type": "line", "strokeWidth": 3, "interpolate": "monotone"},
                  "encoding": {
                    "x": {"field": "dose", "type": "quantitative", "title": "[RSL3, uM]", "scale": {"type": "log", "domain": [0.0000692, 1.445], "nice": false},
                      "axis": {"title": "[RSL3, uM]", "titleFontSize": 20, "titleX": 147, "titlePadding": 2, "values": [0.0001, 0.001, 0.01, 0.1, 1],
                        "labelExpr": "datum.value < 0.0002 ? '1e−04' : format(datum.value, '~g')", "labelFontSize": 17, "labelPadding": 12,
                        "labelOverlap": false, "labelFlush": false, "tickSize": 10, "tickWidth": 1.5, "tickColor": "black", "domain": false, "grid": false}},
                    "y": {"field": "y", "type": "quantitative", "title": null},
                    "color": {"field": "t", "type": "nominal", "scale": {"domain": ["RSL3", "RSL3+PLX"], "range": ["#0000ff", "#ff0000"]},
                      "legend": {"title": null, "orient": "none", "legendX": 18, "legendY": 157, "padding": 0, "symbolType": "M-1.65,0H1.65", "symbolSize": 324, "symbolStrokeWidth": 3, "symbolFillColor": "transparent", "labelFontSize": 15, "labelOffset": 19, "rowPadding": 0}},
                    "strokeDash": {"field": "t", "type": "nominal", "scale": {"domain": ["RSL3", "RSL3+PLX"], "range": [[1, 0], [10, 7]]},
                      "legend": {"title": null, "orient": "none", "legendX": 18, "legendY": 157, "padding": 0, "symbolType": "M-1.65,0H1.65", "symbolSize": 324, "symbolStrokeWidth": 3, "symbolFillColor": "transparent", "labelFontSize": 15, "labelOffset": 19, "rowPadding": 0}}
                  }
                },
                {
                  "data": {"name": "errs"}, "transform": [{"filter": "datum.p === 'BR'"}],
                  "mark": {"type": "errorbar", "ticks": true, "size": 7, "thickness": 1.3, "color": "black"},
                  "encoding": {"x": {"field": "dose", "type": "quantitative", "title": "[RSL3, uM]"}, "y": {"field": "lo", "type": "quantitative", "title": null}, "y2": {"field": "hi"}}
                },
                {
                  "data": {"name": "arrows"}, "transform": [{"filter": "datum.p === 'BR'"}],
                  "mark": {"type": "rule", "color": "black", "strokeWidth": 1.3},
                  "encoding": {"x": {"field": "x", "type": "quantitative", "title": "[RSL3, uM]"}, "x2": {"field": "x2"}, "y": {"field": "y", "type": "quantitative", "title": null}, "y2": {"field": "y2"}}
                },
                {
                  "data": {"name": "arrows"}, "transform": [{"filter": "datum.p === 'BR'"}],
                  "mark": {"type": "point", "filled": false, "color": "black", "strokeWidth": 1.3, "size": 400, "opacity": 1},
                  "encoding": {"x": {"field": "x2", "type": "quantitative", "title": "[RSL3, uM]"}, "y": {"field": "y2", "type": "quantitative", "title": null},
                    "shape": {"field": "dir", "type": "nominal", "scale": {"domain": ["left", "down"], "range": ["M1,-0.4L0,0L1,0.4", "M-0.4,-1L0,0L0.4,-1"]}, "legend": null}}
                },
                {
                  "data": {"name": "sigC"}, "transform": [{"filter": "datum.p === 'BR'"}],
                  "mark": {"type": "text", "fontSize": 18, "baseline": "middle", "align": "center", "color": "black"},
                  "encoding": {"x": {"field": "x", "type": "quantitative", "title": "[RSL3, uM]"}, "y": {"field": "y", "type": "quantitative", "title": null}, "text": {"field": "label"}}
                }
              ]
            }
          ]
        }
      ]
    },
    {
      "columns": 1,
      "spacing": -31,
      "concat": [
        {
          "width": 259,
          "height": 1,
          "data": {"values": []},
          "mark": {"type": "point", "opacity": 0}
        },
        {
          "width": 259,
          "height": 554,
          "title": {"text": ["", "B"], "lineHeight": 8.5, "anchor": "start", "frame": "bounds", "fontSize": 21, "offset": -36, "dx": 3, "baseline": "bottom"},
          "view": {"stroke": "#4d4d4d", "strokeWidth": 3.5},
          "data": {"name": "ko"},
          "transform": [{"flatten": ["v"]}],
          "mark": {"type": "circle", "size": 22, "color": "black", "opacity": 1},
          "encoding": {
            "x": {
              "field": "v", "type": "quantitative",
              "scale": {"domain": [-0.038, 1.04], "nice": false, "zero": false},
              "axis": {
                "orient": "top", "title": "Max NADPH –> NADP+ KO/WT", "titleFont": "Liberation Sans Narrow, DejaVu Sans Condensed, Liberation Sans", "titleFontSize": 18, "titlePadding": 3,
                "values": [0, 0.125, 0.25, 0.375, 0.5, 0.625, 0.75, 0.875, 1],
                "labelExpr": "datum.value % 0.25 === 0 ? format(datum.value, '.2f') : ''",
                "labelAngle": 90, "labelAlign": "right", "labelBaseline": "middle", "labelFontSize": 11.5, "labelPadding": 3,
                "labelFont": "Liberation Sans Narrow, DejaVu Sans Condensed, Liberation Sans",
                "labelOverlap": false, "labelFlush": false, "offset": 2,
                "tickOpacity": {"condition": {"test": "datum.value % 0.25 === 0", "value": 1}, "value": 0},
                "tickSize": 5, "tickWidth": 3.5, "tickColor": "black", "domain": false,
                "grid": true, "gridColor": "#ebebeb", "gridWidth": 1.5
              }
            },
            "y": {
              "field": "gene", "type": "nominal",
              "sort": ["ACAA1", "ACOX1", "GLUD1", "GOT1", "PYCR2", "GOT2", "AKR1A1", "HSD17B4", "GSR", "ALDH18A1", "AKR7A2", "EHHADH", "BCAT1", "BCAT2", "AKR1B1", "PYCR1", "ALDH1A3", "GRHPR", "GLUD2", "ALDOA", "GLRX", "PGAM1", "CBR1", "ALDH3B2", "PTGES2", "PKM", "GAPDH", "OAT", "DUOX1", "IDH2", "ALDH3B1", "IDH3B", "IDH3A", "IDH3G", "ALDH9A1", "DHFR", "ADH5", "GLRX2", "PC", "PTGES", "GPD1", "ABAT", "AGXT", "CRAT", "ALDH7A1", "ENO1", "PPA2", "ALDH3A2", "GPI", "MTHFD1"],
              "scale": {"paddingInner": 0, "paddingOuter": 0},
              "axis": {
                "title": "Gene Knockout: Top 50 genes", "titleFontSize": 22.5, "titlePadding": 6, "titleY": 234,
                "labelFontSize": 10.5, "labelFont": "Liberation Sans Narrow, DejaVu Sans Condensed, Liberation Sans",
                "labelColor": {"condition": {"test": "indexof(['GSR','CBR1','DUOX1','DHFR'], datum.value) >= 0", "value": "#ff0000"}, "value": "black"},
                "labelPadding": 3, "offset": 2, "tickSize": 4, "tickWidth": 3.5, "tickColor": "black", "domain": false,
                "grid": true, "gridColor": "#ebebeb", "gridWidth": 1.5
              }
            }
          }
        }
      ]
    }
  ]
}
